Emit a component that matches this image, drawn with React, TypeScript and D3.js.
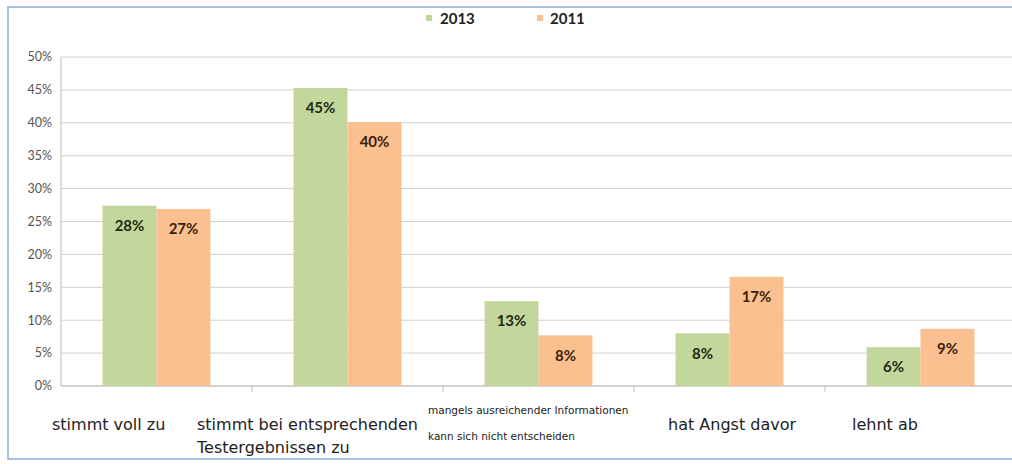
import React from "react";
import * as d3 from "d3";

const categories = [
  "stimmt voll zu",
  "stimmt bei entsprechenden|Testergebnissen zu",
  "mangels ausreichender Informationen|kann sich nicht entscheiden",
  "hat Angst davor",
  "lehnt ab",
];
const values2013 = [27.4, 45.3, 12.9, 8.0, 5.9];
const values2011 = [26.9, 40.1, 7.7, 16.6, 8.7];
const labels2013 = ["28%", "45%", "13%", "8%", "6%"];
const labels2011 = ["27%", "40%", "8%", "17%", "9%"];
const seriesNames = ["2013", "2011"];
const yTicks = [0, 5, 10, 15, 20, 25, 30, 35, 40, 45, 50];

const W = 1012;
const H = 464;
const margin = { top: 57, right: -4, bottom: 78, left: 61 };
const green = "#c3d69b";
const orange = "#fac090";

// where each category label starts, relative to its band
const labelShift = [-9, -55, -15, 34, 27];
const labelSize = [16, 16, 10.5, 16, 16];

export default function App() {
  const innerW = W - margin.left - margin.right;
  const innerH = H - margin.top - margin.bottom;

  const x0 = d3.scaleBand().domain(categories).range([0, innerW]).paddingInner(0).paddingOuter(0);
  const x1 = d3.scaleBand().domain(seriesNames).range([0, x0.bandwidth()]).paddingInner(0).paddingOuter(0.77);
  const y = d3.scaleLinear().domain([0, 50]).range([innerH, 0]);

  const series = [
    { name: "2013", values: values2013, labels: labels2013, color: green, text: "#1f2a14" },
    { name: "2011", values: values2011, labels: labels2011, color: orange, text: "#3a1e08" },
  ];

  return (
    <svg width={W} height={H} style={{ position: "absolute", left: 0, top: 0 }}>
      <rect x={0} y={0} width={W} height={H} fill="#ffffff" />

      {/* legend */}
      <g fontFamily="Lato, 'DejaVu Sans', sans-serif" fontWeight="bold" fontSize={15} fill="#222">
        <rect x={426} y={15} width={6} height={6} fill={green} />
        <text x={440} y={24}>2013</text>
        <rect x={537} y={15} width={6} height={6} fill={orange} />
        <text x={550} y={24}>2011</text>
      </g>

      <g transform={`translate(${margin.left},${margin.top})`}>
        {yTicks.map((t) => (
          <g key={t}>
            <line x1={0} x2={innerW} y1={y(t)} y2={y(t)} stroke="#d0d0d0" strokeWidth={1} />
            <text
              x={-9}
              y={y(t)}
              dy="0.35em"
              textAnchor="end"
              fontFamily="Lato, 'DejaVu Sans', sans-serif"
              fontSize={12.5}
              fill="#555"
            >
              {t}%
            </text>
          </g>
        ))}
        <line x1={0} x2={0} y1={0} y2={innerH} stroke="#bdbdbd" />
        <line x1={0} x2={innerW} y1={innerH} y2={innerH} stroke="#bdbdbd" />
        {categories.map((c, i) =>
          i > 0 ? (
            <line key={c} x1={x0(c)} x2={x0(c)} y1={innerH} y2={innerH + 6} stroke="#bdbdbd" />
          ) : null
        )}

        {series.map((s) => (
          <g key={s.name}>
            {categories.map((c, i) => {
              const bx = (x0(c) as number) + (x1(s.name) as number);
              const by = y(s.values[i]);
              return (
                <g key={c}>
                  <rect x={bx} y={by} width={x1.bandwidth()} height={innerH - by} fill={s.color} />
                  <text
                    x={bx + x1.bandwidth() / 2}
                    y={by + 20}
                    dy="0.35em"
                    textAnchor="middle"
                    fontFamily="Lato, 'DejaVu Sans', sans-serif"
                    fontWeight="bold"
                    fontSize={15}
                    fill={s.text}
                  >
                    {s.labels[i]}
                  </text>
                </g>
              );
            })}
          </g>
        ))}

        {categories.map((c, i) => {
          const lines = c.split("|");
          const size = labelSize[i];
          const lx = (x0(c) as number) + labelShift[i];
          const startY = lines.length === 1 ? 44 : size < 12 ? 28 : 44;
          const step = size < 12 ? 26 : 23;
          return (
            <text
              key={c}
              x={lx}
              fontFamily="'DejaVu Sans', sans-serif"
              fontSize={size}
              fill="#222"
            >
              {lines.map((l, k) => (
                <tspan key={k} x={lx} y={innerH + startY + k * step}>
                  {l}
                </tspan>
              ))}
            </text>
          );
        })}
      </g>

      {/* frame */}
      <path d={`M${W},7 H8 V${H - 5} H${W}`} fill="none" stroke="#8ea9d6" strokeWidth={1.5} />
    </svg>
  );
}
